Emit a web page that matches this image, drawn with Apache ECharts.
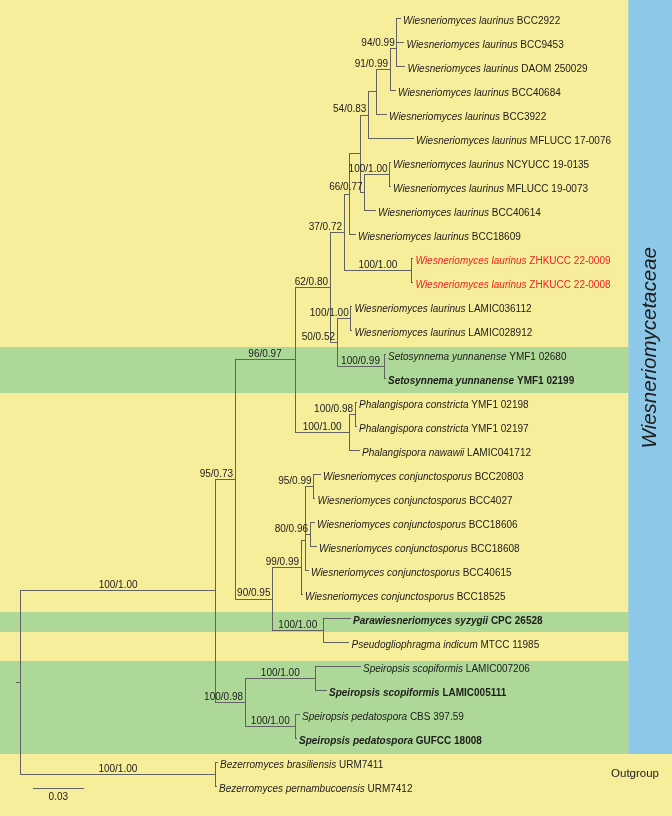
<!DOCTYPE html>
<html><head><meta charset="utf-8">
<script src="https://cdn.jsdelivr.net/npm/echarts@6/dist/echarts.min.js"></script>
<style>html,body{margin:0;padding:0;background:#F7EE9B}#c{width:672px;height:816px}</style>
</head><body><div id="c"></div>
<script>
// ---------- DATA ----------
const speciesNames = [
  'Wiesneriomyces laurinus','Wiesneriomyces laurinus','Wiesneriomyces laurinus','Wiesneriomyces laurinus',
  'Wiesneriomyces laurinus','Wiesneriomyces laurinus','Wiesneriomyces laurinus','Wiesneriomyces laurinus',
  'Wiesneriomyces laurinus','Wiesneriomyces laurinus','Wiesneriomyces laurinus','Wiesneriomyces laurinus',
  'Wiesneriomyces laurinus','Wiesneriomyces laurinus',
  'Setosynnema yunnanense','Setosynnema yunnanense',
  'Phalangispora constricta','Phalangispora constricta','Phalangispora nawawii',
  'Wiesneriomyces conjunctosporus','Wiesneriomyces conjunctosporus','Wiesneriomyces conjunctosporus',
  'Wiesneriomyces conjunctosporus','Wiesneriomyces conjunctosporus','Wiesneriomyces conjunctosporus',
  'Parawiesneriomyces syzygii','Pseudogliophragma indicum',
  'Speiropsis scopiformis','Speiropsis scopiformis','Speiropsis pedatospora','Speiropsis pedatospora',
  'Bezerromyces brasiliensis','Bezerromyces pernambucoensis'
];
const strains = [
  'BCC2922','BCC9453','DAOM 250029','BCC40684','BCC3922','MFLUCC 17-0076','NCYUCC 19-0135','MFLUCC 19-0073',
  'BCC40614','BCC18609','ZHKUCC 22-0009','ZHKUCC 22-0008','LAMIC036112','LAMIC028912',
  'YMF1 02680','YMF1 02199','YMF1 02198','YMF1 02197','LAMIC041712',
  'BCC20803','BCC4027','BCC18606','BCC18608','BCC40615','BCC18525',
  'CPC 26528','MTCC 11985','LAMIC007206','LAMIC005111','CBS 397.59','GUFCC 18008','URM7411','URM7412'
];
// n = normal, b = type/bold, r = new isolate (red)
const taxonStyle = [
  'n','n','n','n','n','n','n','n','n','n','r','r','n','n',
  'n','b','n','n','n',
  'n','n','n','n','n','n',
  'b','n','n','b','n','b','n','n'
];
// distance from root (substitutions per site)
const taxonDepth = [
  0.2276,0.2297,0.2303,0.2246,0.2192,0.2354,0.2216,0.2216,0.2126,0.2006,0.2351,0.2351,0.1985,0.1985,
  0.2186,0.2186,0.2012,0.2012,0.2030,
  0.1796,0.1763,0.1760,0.1772,0.1724,0.1688,
  0.1976,0.1967,0.2036,0.1832,0.1670,0.1652,0.1178,0.1172
];
// internal nodes, children listed before parents
const nodeIds = ['A2','A','B','C','D','F','G','E','H','J','I','M','N','L','K','Q','P','O',
  'Y','Z','X2','X','V','W','T','S','AA','AB','U','R','AC','root'];
const nodeKids = [
  [0,1],['A2',2],['A',3],['B',4],['C',5],[6,7],['F',8],['D','G'],['E',9],[10,11],['H','J'],
  [12,13],[14,15],['M','N'],['I','L'],[16,17],['Q',18],['K','P'],
  [19,20],[21,22],['Y','Z'],['X2',23],['X',24],[25,26],['V','W'],['O','T'],
  [27,28],[29,30],['AA','AB'],['S','U'],[31,32],['R','AC']
];
const nodeDepth = [
  0.2256,0.2256,0.2216,0.2132,0.2086,0.2213,0.2063,0.2039,0.1973,0.2346,0.1940,
  0.1980,0.2180,0.1898,0.1856,0.2006,0.1972,0.1646,
  0.1757,0.1736,0.1706,0.1706,0.1682,0.1814,0.1511,0.1286,
  0.1769,0.1649,0.1346,0.1169,0.1166,0
];
const nodeSupport = [
  '','94/0.99','91/0.99','','54/0.83','100/1.00','66/0.77','','','100/1.00','37/0.72',
  '100/1.00','100/0.99','50/0.52','62/0.80','100/0.98','100/1.00','96/0.97',
  '95/0.99','80/0.96','','','99/0.99','100/1.00','90/0.95','95/0.73',
  '100/1.00','100/1.00','100/0.98','100/1.00','100/1.00',''
];
// highlighted rows (type-derived sequences), in row units
const bandRows = [[13.69, 15.6], [24.73, 25.56], [26.77, 30.65]];
const cladeNames = ['Wiesneriomycetaceae', 'Outgroup'];
const scaleBarLength = 0.03;
const scaleBarText = '0.03';

// ---------- LAYOUT ----------
const X_MIN = -0.01242, X_MAX = 0.39078;
const Y_MIN = -0.7708, Y_MAX = 33.229;
const ROOT_STUB = 0.0028;
const BLUE_LEFT = 0.36456;
const FAMILY_LABEL_POS = [0.3779, 13.72];
const OUTGROUP_LABEL_POS = [0.3686, 31.47];
const SCALE_POS = [0.00756, 32.07];
const FONT = '"Liberation Sans", Arial, Helvetica, sans-serif';
const FS = 10;
const LINE = '#626262';
const TXT = '#1c1c1c';
const RED = '#ec2121';
const YELLOW = '#F7EE9B', GREEN = '#AED898', BLUE = '#8EC8E8';

// ---------- TREE GEOMETRY ----------
const yOf = {}, xOf = {}, parentOf = {};
taxonDepth.forEach((d, i) => { yOf[i] = i; xOf[i] = d; });
nodeIds.forEach((id, k) => {
  const kids = nodeKids[k];
  xOf[id] = nodeDepth[k];
  yOf[id] = (yOf[kids[0]] + yOf[kids[kids.length - 1]]) / 2;
  kids.forEach(c => { parentOf[c] = id; });
});
const segs = [];
taxonDepth.forEach((d, i) => segs.push([xOf[parentOf[i]], i, d, i]));
nodeIds.forEach((id, k) => {
  const kids = nodeKids[k];
  if (parentOf[id] !== undefined) segs.push([xOf[parentOf[id]], yOf[id], xOf[id], yOf[id]]);
  else segs.push([xOf[id] - ROOT_STUB, yOf[id], xOf[id], yOf[id]]);
  segs.push([xOf[id], yOf[kids[0]], xOf[id], yOf[kids[kids.length - 1]]]);
});
segs.push([SCALE_POS[0], SCALE_POS[1], SCALE_POS[0] + scaleBarLength, SCALE_POS[1]]);

const supportData = [];
nodeIds.forEach((id, k) => {
  if (nodeSupport[k]) supportData.push([xOf[parentOf[id]], yOf[id], xOf[id], k]);
});
const tipData = taxonDepth.map((d, i) => [d, i, i]);

const measure = document.createElement('canvas').getContext('2d');
measure.font = FS + 'px ' + FONT;

const snap = v => Math.round(v - 0.5) + 0.5;

const chart = echarts.init(document.getElementById('c'), null, { renderer: 'canvas' });
chart.setOption({
  backgroundColor: YELLOW,
  animation: false,
  grid: { left: 0, right: 0, top: 0, bottom: 0 },
  xAxis: { type: 'value', min: X_MIN, max: X_MAX, show: false },
  yAxis: { type: 'value', min: Y_MIN, max: Y_MAX, inverse: true, show: false },
  series: [
    { // green bands
      type: 'custom', z: 1, silent: true,
      data: bandRows.map(b => [X_MIN, b[0], BLUE_LEFT, b[1]]),
      renderItem(params, api) {
        const a = api.coord([api.value(0), api.value(1)]);
        const b = api.coord([api.value(2), api.value(3)]);
        return { type: 'rect', shape: { x: a[0], y: a[1], width: b[0] - a[0], height: b[1] - a[1] }, style: { fill: GREEN } };
      }
    },
    { // family band + labels
      type: 'custom', z: 1, silent: true,
      data: [[BLUE_LEFT, Y_MIN, X_MAX, bandRows[2][1]]],
      renderItem(params, api) {
        const a = api.coord([api.value(0), api.value(1)]);
        const b = api.coord([api.value(2), api.value(3)]);
        const f = api.coord(FAMILY_LABEL_POS);
        const o = api.coord(OUTGROUP_LABEL_POS);
        return { type: 'group', children: [
          { type: 'rect', shape: { x: a[0], y: a[1], width: b[0] - a[0], height: b[1] - a[1] }, style: { fill: BLUE } },
          { type: 'text', x: f[0], y: f[1], rotation: Math.PI / 2,
            style: { text: cladeNames[0], fontSize: 20.5, fontStyle: 'italic', fontFamily: FONT, fill: TXT, align: 'center', verticalAlign: 'middle' } },
          { type: 'text', x: o[0], y: o[1],
            style: { text: cladeNames[1], fontSize: 11.5, fontFamily: FONT, fill: TXT, align: 'center', verticalAlign: 'middle' } }
        ] };
      }
    },
    { // branches
      type: 'custom', z: 3, silent: true,
      data: segs,
      renderItem(params, api) {
        const a = api.coord([api.value(0), api.value(1)]);
        const b = api.coord([api.value(2), api.value(3)]);
        return { type: 'line', shape: { x1: snap(a[0]), y1: snap(a[1]), x2: snap(b[0]), y2: snap(b[1]) },
          style: { stroke: LINE, lineWidth: 1, lineCap: 'square' } };
      }
    },
    { // taxon labels
      type: 'custom', z: 4, silent: true,
      data: tipData,
      renderItem(params, api) {
        const p = api.coord([api.value(0), api.value(1)]);
        const i = api.value(2);
        const st = taxonStyle[i];
        const w = st === 'b' ? 'bold' : 'normal';
        const col = st === 'r' ? RED : TXT;
        return { type: 'text', x: p[0] + 3, y: p[1] + 3,
          style: {
            text: '{i|' + speciesNames[i] + '} {s|' + strains[i] + '}',
            rich: {
              i: { fontStyle: 'italic', fontWeight: w, fontSize: FS, fontFamily: FONT, fill: col },
              s: { fontStyle: 'normal', fontWeight: w, fontSize: FS, fontFamily: FONT, fill: col }
            },
            fontSize: FS, fontFamily: FONT, fontWeight: w, fill: col, align: 'left', verticalAlign: 'middle'
          } };
      }
    },
    { // support values
      type: 'custom', z: 4, silent: true,
      data: supportData,
      renderItem(params, api) {
        const a = api.coord([api.value(0), api.value(1)]);
        const b = api.coord([api.value(2), api.value(1)]);
        const txt = nodeSupport[api.value(3)];
        const w = measure.measureText(txt).width;
        const len = b[0] - a[0];
        let x, align;
        if (len >= w + 2) { x = (a[0] + b[0]) / 2; align = 'center'; }
        else { x = b[0] - 2; align = 'right'; }
        return { type: 'text', x: x, y: b[1] - 5.5,
          style: { text: txt, fontSize: FS, fontFamily: FONT, fill: TXT, align: align, verticalAlign: 'middle' } };
      }
    },
    { // scale bar label
      type: 'custom', z: 4, silent: true,
      data: [[SCALE_POS[0] + scaleBarLength / 2, SCALE_POS[1]]],
      renderItem(params, api) {
        const p = api.coord([api.value(0), api.value(1)]);
        return { type: 'text', x: p[0], y: p[1] + 9,
          style: { text: scaleBarText, fontSize: FS, fontFamily: FONT, fill: TXT, align: 'center', verticalAlign: 'middle' } };
      }
    }
  ]
});
</script></body></html>
